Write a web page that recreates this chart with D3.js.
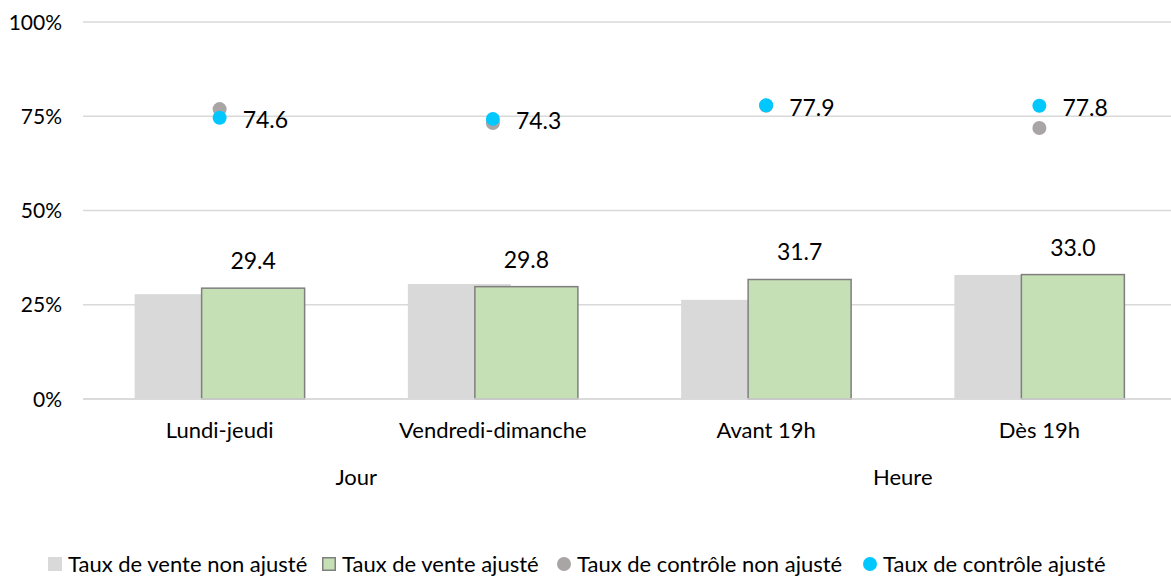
<!DOCTYPE html>
<html>
<head>
<meta charset="utf-8">
<script src="https://cdn.jsdelivr.net/npm/d3@7"></script>
<style>
  body { margin: 0; background: #fff; }
  svg text { font-family: Lato, "Open Sans", sans-serif; fill: #000; }
</style>
</head>
<body>
<div id="chart"></div>
<script>
// chart data
var categories = ["Lundi-jeudi", "Vendredi-dimanche", "Avant 19h", "Dès 19h"];
var groups = ["Jour", "Heure"];
var venteNonAjuste = [27.8, 30.5, 26.3, 32.9];
var venteAjuste = [29.4, 29.8, 31.7, 33.0];
var controleNonAjuste = [76.9, 73.2, 77.8, 71.9];
var controleAjuste = [74.6, 74.3, 77.9, 77.8];
var yTicks = [0, 25, 50, 75, 100];
var legendLabels = ["Taux de vente non ajusté", "Taux de vente ajusté",
  "Taux de contrôle non ajusté", "Taux de contrôle ajusté"];

var svgWidth = 1171;
var svgHeight = 579;

var margin = { top: 22, right: -5, bottom: 180, left: 83 };
var chartWidth = svgWidth - margin.left - margin.right;
var chartHeight = svgHeight - margin.top - margin.bottom;

var svg = d3.select("#chart")
  .append("svg")
  .attr("width", svgWidth)
  .attr("height", svgHeight);

var chartGroup = svg.append("g")
  .attr("transform", `translate(${margin.left}, ${margin.top})`);

// scales
var xScale = d3.scaleBand()
  .domain(categories)
  .range([0, chartWidth]);

var yScale = d3.scaleLinear()
  .domain([0, 100])
  .range([chartHeight, 0]);

var barWidth = 103;
var barShift = 33.5;

// gridlines
chartGroup.selectAll(".grid")
  .data(yTicks)
  .enter()
  .append("line")
  .attr("x1", 0)
  .attr("x2", chartWidth)
  .attr("y1", d => yScale(d))
  .attr("y2", d => yScale(d))
  .attr("stroke", "#d9d9d9")
  .attr("stroke-width", 1.3);

// y tick labels
chartGroup.selectAll(".ytick")
  .data(yTicks)
  .enter()
  .append("text")
  .attr("x", -21)
  .attr("y", d => yScale(d))
  .attr("dy", "0.36em")
  .attr("text-anchor", "end")
  .attr("font-size", "21px")
  .text(d => d + "%");

// grey bars (non adjusted)
chartGroup.selectAll(".barNon")
  .data(venteNonAjuste)
  .enter()
  .append("rect")
  .attr("x", (d, i) => xScale(categories[i]) + xScale.bandwidth() / 2 - barShift - barWidth / 2)
  .attr("y", d => yScale(d))
  .attr("width", barWidth)
  .attr("height", d => chartHeight - yScale(d))
  .attr("fill", "#d9d9d9");

// green bars (adjusted)
chartGroup.selectAll(".barAdj")
  .data(venteAjuste)
  .enter()
  .append("rect")
  .attr("x", (d, i) => xScale(categories[i]) + xScale.bandwidth() / 2 + barShift - barWidth / 2)
  .attr("y", d => yScale(d))
  .attr("width", barWidth)
  .attr("height", d => chartHeight - yScale(d))
  .attr("fill", "#c5e0b4")
  .attr("stroke", "#7f7f7f")
  .attr("stroke-width", 1.5);

// labels on green bars
chartGroup.selectAll(".barLabel")
  .data(venteAjuste)
  .enter()
  .append("text")
  .attr("x", (d, i) => xScale(categories[i]) + xScale.bandwidth() / 2 + barShift)
  .attr("y", d => yScale(d) - 19)
  .attr("text-anchor", "middle")
  .attr("font-size", "23px")
  .text(d => d.toFixed(1));

// baseline over bars
chartGroup.append("line")
  .attr("x1", 0)
  .attr("x2", chartWidth)
  .attr("y1", yScale(0))
  .attr("y2", yScale(0))
  .attr("stroke", "#d9d9d9")
  .attr("stroke-width", 1.3);

// dots
chartGroup.selectAll(".dotNon")
  .data(controleNonAjuste)
  .enter()
  .append("circle")
  .attr("cx", (d, i) => xScale(categories[i]) + xScale.bandwidth() / 2)
  .attr("cy", d => yScale(d))
  .attr("r", 7)
  .attr("fill", "#a9a5a5");

chartGroup.selectAll(".dotAdj")
  .data(controleAjuste)
  .enter()
  .append("circle")
  .attr("cx", (d, i) => xScale(categories[i]) + xScale.bandwidth() / 2)
  .attr("cy", d => yScale(d))
  .attr("r", 7)
  .attr("fill", "#00c8ff");

chartGroup.selectAll(".dotLabel")
  .data(controleAjuste)
  .enter()
  .append("text")
  .attr("x", (d, i) => xScale(categories[i]) + xScale.bandwidth() / 2 + 23)
  .attr("y", d => yScale(d) + 2)
  .attr("dy", "0.36em")
  .attr("font-size", "23px")
  .text(d => d.toFixed(1));

// category labels
chartGroup.selectAll(".xlabel")
  .data(categories)
  .enter()
  .append("text")
  .attr("x", d => xScale(d) + xScale.bandwidth() / 2)
  .attr("y", chartHeight + 31)
  .attr("dy", "0.36em")
  .attr("text-anchor", "middle")
  .attr("font-size", "22px")
  .text(d => d);

// group labels
chartGroup.selectAll(".glabel")
  .data(groups)
  .enter()
  .append("text")
  .attr("x", (d, i) => xScale(categories[i * 2 + 1]))
  .attr("y", chartHeight + 78)
  .attr("dy", "0.36em")
  .attr("text-anchor", "middle")
  .attr("font-size", "22px")
  .text(d => d);

// legend
var legendX = [48, 322, 557, 863];
var legend = svg.append("g");
legendLabels.forEach(function(label, i) {
  var g = legend.append("g")
    .attr("transform", `translate(${legendX[i]}, 564)`);
  if (i === 0) {
    g.append("rect").attr("x", 0).attr("y", -7).attr("width", 14).attr("height", 14)
      .attr("fill", "#d9d9d9");
  } else if (i === 1) {
    g.append("rect").attr("x", 0.75).attr("y", -6.25).attr("width", 12.5).attr("height", 12.5)
      .attr("fill", "#c5e0b4").attr("stroke", "#7f7f7f").attr("stroke-width", 1.5);
  } else {
    g.append("circle").attr("cx", 7).attr("cy", 0).attr("r", 7)
      .attr("fill", i === 2 ? "#a9a5a5" : "#00c8ff");
  }
  g.append("text")
    .attr("x", 20)
    .attr("y", 0)
    .attr("dy", "0.36em")
    .attr("font-size", "22px")
    .text(label);
});
</script>
</body>
</html>
